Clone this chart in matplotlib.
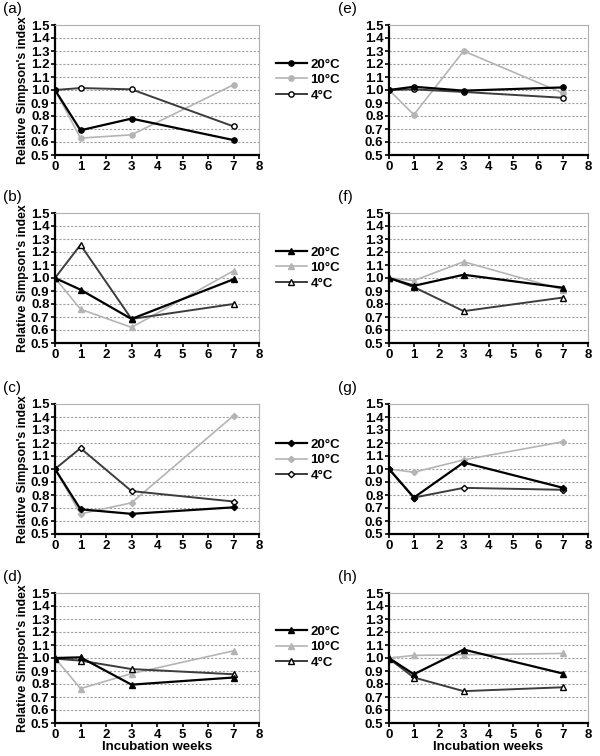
import matplotlib
matplotlib.use("Agg")
import matplotlib.pyplot as plt
from matplotlib.lines import Line2D

plt.rcParams['font.family'] = ['Liberation Sans', 'DejaVu Sans']

weeks = [0, 1, 3, 7]
series_labels = ["20°C", "10°C", "4°C"]
panel_letters = ["(a)", "(b)", "(c)", "(d)", "(e)", "(f)", "(g)", "(h)"]
y_ticks = [0.5, 0.6, 0.7, 0.8, 0.9, 1.0, 1.1, 1.2, 1.3, 1.4, 1.5]
x_ticks = [0, 1, 2, 3, 4, 5, 6, 7, 8]

a_20 = [1.00, 0.69, 0.78, 0.615]
a_10 = [1.00, 0.63, 0.655, 1.04]
a_4 = [1.00, 1.015, 1.005, 0.72]

b_20 = [1.00, 0.91, 0.685, 0.99]
b_10 = [1.00, 0.76, 0.62, 1.055]
b_4 = [1.00, 1.255, 0.685, 0.80]

c_20 = [1.00, 0.69, 0.655, 0.705]
c_10 = [1.00, 0.655, 0.74, 1.41]
c_4 = [1.00, 1.16, 0.83, 0.75]

d_20 = [1.00, 1.005, 0.795, 0.85]
d_10 = [1.00, 0.765, 0.88, 1.055]
d_4 = [0.995, 0.98, 0.915, 0.875]

e_20 = [1.00, 1.025, 0.995, 1.02]
e_10 = [1.00, 0.81, 1.30, 0.975]
e_4 = [1.00, 1.005, 0.985, 0.94]

f_20 = [1.00, 0.94, 1.025, 0.925]
f_10 = [1.00, 0.98, 1.125, 0.91]
f_4 = [1.00, 0.93, 0.745, 0.85]

g_20 = [1.00, 0.78, 1.05, 0.855]
g_10 = [1.00, 0.975, 1.07, 1.21]
g_4 = [1.00, 0.78, 0.855, 0.84]

h_20 = [1.00, 0.875, 1.065, 0.88]
h_10 = [1.00, 1.02, 1.025, 1.035]
h_4 = [0.995, 0.85, 0.745, 0.775]

panels = [
    (a_20, a_10, a_4), (b_20, b_10, b_4), (c_20, c_10, c_4), (d_20, d_10, d_4),
    (e_20, e_10, e_4), (f_20, f_10, f_4), (g_20, g_10, g_4), (h_20, h_10, h_4),
]
marker_kinds = ['o', '^', 'D', '^', 'o', '^', 'D', '^']

W, H = 600, 756
fig = plt.figure(figsize=(W / 100, H / 100), dpi=100)
fig.patch.set_facecolor('white')

col_left = [55, 389]
col_width = [204, 199]
row_top = [25, 213, 404, 593]
ax_h = 130
legend_centers = [80, 268, 460, 647]

c20 = '#000000'
c10 = '#b4b4b4'
c4 = '#3c3c3c'

for idx, (s20, s10, s4) in enumerate(panels):
    col = idx // 4
    row = idx % 4
    left = col_left[col] / W
    bottom = 1 - (row_top[row] + ax_h) / H
    ax = fig.add_axes([left, bottom, col_width[col] / W, ax_h / H])
    m = marker_kinds[idx]
    ms = 3.8 if m != 'D' else 3.2
    ax.plot(weeks, s10, color=c10, lw=1.2, marker=m, ms=ms, mfc=c10, mec=c10,
            label=series_labels[1], zorder=3)
    ax.plot(weeks, s4, color=c4, lw=1.4, marker=m, ms=ms, mfc='white', mec='black',
            mew=1.0, label=series_labels[2], zorder=4)
    ax.plot(weeks, s20, color=c20, lw=1.6, marker=m, ms=ms, mfc='black', mec='black',
            label=series_labels[0], zorder=5)
    ax.set_xlim(0, 8)
    ax.set_ylim(0.5, 1.5)
    ax.set_xticks(x_ticks)
    ax.set_yticks(y_ticks)
    ax.set_yticklabels([f"{v:.1f}" for v in y_ticks])
    for yv in y_ticks[1:-1]:
        ax.axhline(yv, color='#a0a0a0', lw=0.8, ls=(0, (2, 1.5)), zorder=1)
    ax.tick_params(axis='both', labelsize=9.5, length=3, width=1.2, direction='out', pad=1)
    for lab in ax.get_xticklabels() + ax.get_yticklabels():
        lab.set_fontweight('bold')
    ax.spines['left'].set_linewidth(1.6)
    ax.spines['bottom'].set_linewidth(1.6)
    ax.spines['top'].set_color('#b0b0b0')
    ax.spines['right'].set_color('#b0b0b0')
    ax.spines['top'].set_linewidth(0.8)
    ax.spines['right'].set_linewidth(0.8)
    fig.text((3 if col == 0 else 338) / W, 1 - 2 / H - (row_top[row] - 25) / H,
             panel_letters[idx], fontsize=11, ha='left', va='top')
    if col == 0:
        ax.set_ylabel("Relative Simpson's index", fontsize=8.8, fontweight='bold', labelpad=1)
        handles = [
            Line2D([], [], color=c20, lw=1.6, marker=m, ms=ms, mfc='black', mec='black'),
            Line2D([], [], color=c10, lw=1.2, marker=m, ms=ms, mfc=c10, mec=c10),
            Line2D([], [], color=c4, lw=1.4, marker=m, ms=ms, mfc='white', mec='black'),
        ]
        ax.legend(handles, series_labels, loc='center left',
                  bbox_to_anchor=(271 / W, 1 - legend_centers[row] / H),
                  bbox_transform=fig.transFigure, frameon=False,
                  handlelength=2.3, handletextpad=0.3, labelspacing=0.25,
                  prop={'size': 9.5, 'weight': 'bold'}, borderaxespad=0)
    if row == 3:
        ax.set_xlabel("Incubation weeks", fontsize=9.5, fontweight='bold', labelpad=0)

fig.savefig("out.png", dpi=100, facecolor='white')
